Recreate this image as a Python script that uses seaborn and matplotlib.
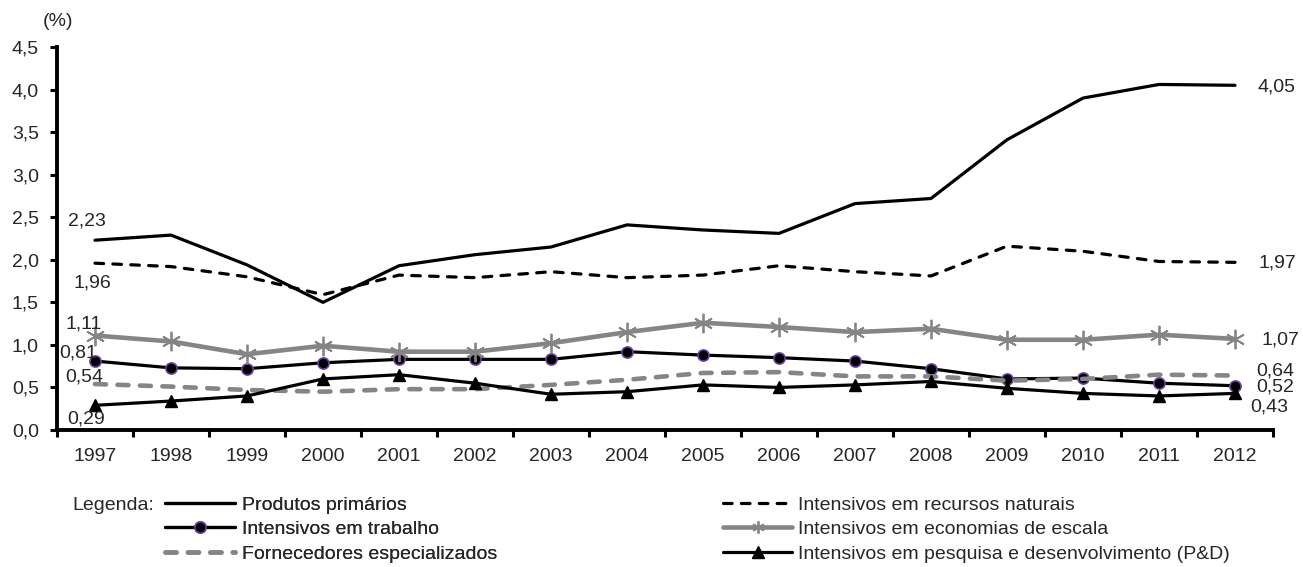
import matplotlib
matplotlib.use("Agg")
import matplotlib.pyplot as plt
from matplotlib.lines import Line2D
import numpy as np
import pandas as pd
import seaborn as sns

years = ["1997", "1998", "1999", "2000", "2001", "2002", "2003", "2004",
         "2005", "2006", "2007", "2008", "2009", "2010", "2011", "2012"]

produtos_primarios = [2.23, 2.29, 1.94, 1.50, 1.93, 2.06, 2.15, 2.41,
                      2.35, 2.31, 2.66, 2.72, 3.41, 3.90, 4.06, 4.05]
recursos_naturais = [1.96, 1.92, 1.80, 1.59, 1.82, 1.79, 1.86, 1.79,
                     1.82, 1.93, 1.86, 1.81, 2.16, 2.10, 1.98, 1.97]
trabalho = [0.81, 0.73, 0.72, 0.79, 0.83, 0.83, 0.83, 0.92,
            0.88, 0.85, 0.81, 0.72, 0.60, 0.61, 0.55, 0.52]
economias_escala = [1.11, 1.04, 0.89, 0.99, 0.92, 0.92, 1.02, 1.15,
                    1.26, 1.21, 1.15, 1.19, 1.06, 1.06, 1.12, 1.07]
fornecedores = [0.54, 0.51, 0.47, 0.45, 0.48, 0.48, 0.53, 0.59,
                0.67, 0.68, 0.63, 0.63, 0.58, 0.60, 0.65, 0.64]
pesquisa_pd = [0.29, 0.34, 0.40, 0.60, 0.65, 0.55, 0.42, 0.45,
               0.53, 0.50, 0.53, 0.57, 0.49, 0.43, 0.40, 0.43]

y_ticks = [0.0, 0.5, 1.0, 1.5, 2.0, 2.5, 3.0, 3.5, 4.0, 4.5]

sns.set_theme(style="white")
plt.rcParams["font.family"] = ["Liberation Sans", "DejaVu Sans"]
FS = 14
plt.rcParams["font.size"] = FS

GRAY = "#858585"
PURPLE = "#6a3d9a"
W, H = 1303, 567

fig = plt.figure(figsize=(W / 100, H / 100), dpi=100)
ax = fig.add_axes([57 / W, 1 - 430 / H, (1273 - 57) / W, (430 - 47) / H])

pos = np.arange(len(years))

series = [
    ("Produtos primários", produtos_primarios,
     dict(color="black", lw=2.3, ls="-", marker=None)),
    ("Intensivos em recursos naturais", recursos_naturais,
     dict(color="black", lw=2.3, ls=(0, (2.7, 2.9)), marker=None, cap="round")),
    ("Intensivos em trabalho", trabalho,
     dict(color="black", lw=2.3, ls="-", marker="o", ms=8,
          mfc="black", mec=PURPLE, mew=1.2)),
    ("Intensivos em economias de escala", economias_escala,
     dict(color=GRAY, lw=3.3, ls="-", marker=(6, 2, 0), ms=14,
          mfc=GRAY, mec=GRAY, mew=1.3)),
    ("Fornecedores especializados", fornecedores,
     dict(color=GRAY, lw=3.3, ls=(0, (2.4, 2.5)), marker=None, cap="round")),
    ("Intensivos em pesquisa e desenvolvimento (P&D)", pesquisa_pd,
     dict(color="black", lw=2.3, ls="-", marker="^", ms=8,
          mfc="black", mec="black")),
]

handles = {}
for name, vals, st in series:
    df = pd.DataFrame({"pos": pos, "valor": vals})
    kw = dict(color=st["color"], linewidth=st["lw"], linestyle=st["ls"])
    if "cap" in st:
        kw["dash_capstyle"] = st["cap"]
    if st["marker"] is not None:
        kw.update(marker=st["marker"], markersize=st["ms"],
                  markerfacecolor=st["mfc"], markeredgecolor=st["mec"],
                  markeredgewidth=st.get("mew", 1.0))
    sns.lineplot(data=df, x="pos", y="valor", ax=ax, legend=False, **kw)
    hm = st["marker"] if st["marker"] else None
    hms = st.get("ms", 0)
    if hm == (6, 2, 0):
        hms = 9
    handles[name] = Line2D([], [], color=st["color"], lw=st["lw"], ls=st["ls"],
                           marker=hm, ms=hms, mfc=st.get("mfc"),
                           mec=st.get("mec"), mew=st.get("mew", 1.0),
                           dash_capstyle=st.get("cap", "butt"))

ax.set_xlim(-0.5, len(years) - 0.5)
ax.set_ylim(0, 4.5)
ax.set_yticks(y_ticks)
ax.set_yticklabels([f"{t:.1f}".replace(".", ",") for t in y_ticks], fontsize=FS)
ax.set_xticks(pos)
ax.set_xticklabels(years, fontsize=FS)
ax.set_xticks(np.arange(-0.5, len(years), 1.0), minor=True)
ax.tick_params(axis="x", which="major", length=0, pad=13)
ax.tick_params(axis="x", which="minor", length=5, width=2.2, direction="out",
               color="black", bottom=True)
ax.tick_params(axis="y", length=5, width=2.2, direction="out", color="black",
               left=True, pad=8)
ax.set_xlabel("")
ax.set_ylabel("")
for side in ["top", "right"]:
    ax.spines[side].set_visible(False)
for side in ["left", "bottom"]:
    ax.spines[side].set_color("black")
    ax.spines[side].set_linewidth(2.8)
ax.grid(False)

fig.text(43 / W, 1 - 22 / H, "(%)", fontsize=FS, ha="left", va="center")


def fmt(v):
    return f"{v:.2f}".replace(".", ",")


# first-year labels (offsets in pixels)
first_offsets = [
    (produtos_primarios, (-8, 19)),
    (recursos_naturais, (-3, -20)),
    (economias_escala, (-11, 12)),
    (trabalho, (-17, 8)),
    (fornecedores, (-11, 7)),
    (pesquisa_pd, (-9, -14)),
]
for vals, (dx, dy) in first_offsets:
    ax.annotate(fmt(vals[0]), (pos[0], vals[0]), xytext=(dx, dy),
                textcoords="offset pixels", ha="center", va="center",
                fontsize=FS)

# last-year labels (offsets in pixels)
last_offsets = [
    (produtos_primarios, (42, -2)),
    (recursos_naturais, (42, -1)),
    (economias_escala, (45, -1)),
    (fornecedores, (40, 5)),
    (trabalho, (40, -1)),
    (pesquisa_pd, (34, -14)),
]
for vals, (dx, dy) in last_offsets:
    ax.annotate(fmt(vals[-1]), (pos[-1], vals[-1]), xytext=(dx, dy),
                textcoords="offset pixels", ha="center", va="center",
                fontsize=FS, annotation_clip=False)

fig.text(72 / W, 1 - 506 / H, "Legenda:", fontsize=FS,
         ha="left", va="center")

px = FS * 100 / 72  # pixels per font-size unit
leg_kw = dict(frameon=False, fontsize=FS, labelspacing=0.36,
              borderaxespad=0, borderpad=0)
col1 = ["Produtos primários", "Intensivos em trabalho", "Fornecedores especializados"]
col2 = ["Intensivos em recursos naturais", "Intensivos em economias de escala",
        "Intensivos em pesquisa e desenvolvimento (P&D)"]
leg1 = fig.legend([handles[n] for n in col1], col1, loc="upper left",
                  bbox_to_anchor=(165 / W, 1 - 496 / H),
                  handlelength=70 / px, handletextpad=7 / px, **leg_kw)
fig.add_artist(leg1)
fig.legend([handles[n] for n in col2], col2, loc="upper left",
           bbox_to_anchor=(723 / W, 1 - 496 / H),
           handlelength=69 / px, handletextpad=6 / px, **leg_kw)

fig.savefig("out.png", dpi=100)
